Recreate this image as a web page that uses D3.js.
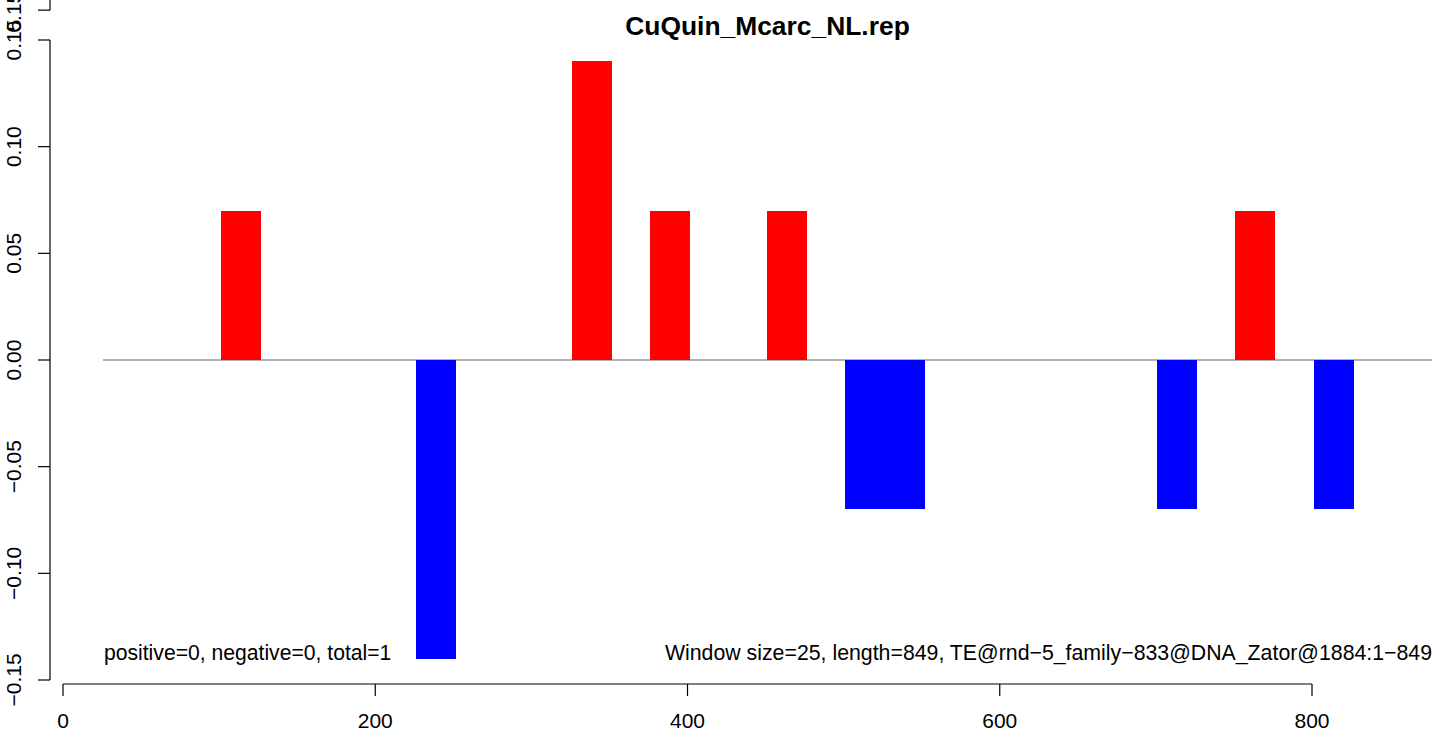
<!DOCTYPE html>
<html>
<head>
<meta charset="utf-8">
<script src="https://cdn.jsdelivr.net/npm/d3@7"></script>
<style>
  html, body { margin: 0; padding: 0; background: #fff; }
  svg { display: block; }
  text { font-family: "Liberation Sans", Arial, Helvetica, sans-serif; fill: #000; }
</style>
</head>
<body>
<svg id="chart" width="1439" height="731"></svg>
<script>
// ---- data ----
const title = "CuQuin_Mcarc_NL.rep";
const windowStarts = [101, 226, 326, 376, 451, 501, 526.6, 701, 751, 801];
const windowWidth = 25.6;
const windowValues = [0.07, -0.14, 0.14, 0.07, 0.07, -0.07, -0.07, -0.07, 0.07, -0.07];
const xTicks = [0, 200, 400, 600, 800];
const yTicks = [-0.15, -0.10, -0.05, 0.00, 0.05, 0.10, 0.15];
const yTickLabels = ["-0.15", "-0.10", "-0.05", "0.00", "0.05", "0.10", "0.15"];
const strayTicks = [0.164];
const strayTickLabels = ["0.15"];
const baselineExtent = [25.6, 876.9];
const leftNote = "positive=0, negative=0, total=1";
const rightNote = "Window size=25, length=849, TE@rnd\u22125_family\u2212833@DNA_Zator@1884:1\u2212849";

// ---- layout ----
const svg = d3.select("#chart");
const x = d3.scaleLinear().domain([0, 800]).range([63, 1312]);
const y = d3.scaleLinear().domain([-0.15, 0.15]).range([680, 40]);
const fmtMinus = s => s.replace("-", "\u2212");

// baseline
svg.append("line")
  .attr("x1", x(baselineExtent[0])).attr("x2", x(baselineExtent[1]))
  .attr("y1", y(0)).attr("y2", y(0))
  .attr("stroke", "#9a9a9a").attr("stroke-width", 1.6);

// bars
svg.selectAll("rect.bar")
  .data(windowStarts.map((s, i) => ({ s, v: windowValues[i] })))
  .join("rect")
  .attr("class", "bar")
  .attr("x", d => x(d.s))
  .attr("width", d => x(d.s + windowWidth) - x(d.s))
  .attr("y", d => y(Math.max(0, d.v)))
  .attr("height", d => Math.abs(y(d.v) - y(0)))
  .attr("fill", d => d.v > 0 ? "#ff0000" : "#0000ff")
  .attr("shape-rendering", "crispEdges");

// x axis
const xAxis = svg.append("g").attr("transform", "translate(0,684)");
xAxis.append("line").attr("x1", x(0)).attr("x2", x(800)).attr("y1", 0).attr("y2", 0)
  .attr("stroke", "#000").attr("stroke-width", 1.2);
xTicks.forEach(t => {
  xAxis.append("line").attr("x1", x(t)).attr("x2", x(t)).attr("y1", 0).attr("y2", 12)
    .attr("stroke", "#000").attr("stroke-width", 1.2);
  xAxis.append("text").attr("x", x(t)).attr("y", 44)
    .attr("text-anchor", "middle").attr("font-size", 21).text(String(t));
});

// y axis
const axX = 50;
const yAxis = svg.append("g");
yAxis.append("line").attr("x1", axX).attr("x2", axX).attr("y1", y(0.15)).attr("y2", y(-0.15))
  .attr("stroke", "#000").attr("stroke-width", 1.2);
yTicks.forEach((t, i) => {
  yAxis.append("line").attr("x1", axX - 12).attr("x2", axX).attr("y1", y(t)).attr("y2", y(t))
    .attr("stroke", "#000").attr("stroke-width", 1.2);
  yAxis.append("text")
    .attr("transform", `translate(21,${y(t)}) rotate(-90)`)
    .attr("text-anchor", "middle").attr("font-size", 21)
    .text(fmtMinus(yTickLabels[i]));
});
// stray overlapping axis fragment at the top (as in the reference)
strayTicks.forEach((t, i) => {
  yAxis.append("line").attr("x1", axX).attr("x2", axX).attr("y1", y(t)).attr("y2", 0)
    .attr("stroke", "#000").attr("stroke-width", 1.2);
  yAxis.append("line").attr("x1", axX - 12).attr("x2", axX).attr("y1", y(t)).attr("y2", y(t))
    .attr("stroke", "#000").attr("stroke-width", 1.2);
  yAxis.append("text")
    .attr("transform", `translate(21,${y(t) + 2}) rotate(-90)`)
    .attr("text-anchor", "middle").attr("font-size", 21)
    .text(strayTickLabels[i]);
});

// title
svg.append("text")
  .attr("x", (x(baselineExtent[0]) + x(baselineExtent[1])) / 2).attr("y", 35)
  .attr("text-anchor", "middle").attr("font-size", 26.4).attr("font-weight", "bold")
  .text(title);

// notes
svg.append("text").attr("x", x(baselineExtent[0]) + 1).attr("y", 660)
  .attr("font-size", 21.15).text(leftNote);
svg.append("text").attr("x", x(baselineExtent[1])).attr("y", 660)
  .attr("text-anchor", "end").attr("font-size", 21.3).text(rightNote);
</script>
</body>
</html>
